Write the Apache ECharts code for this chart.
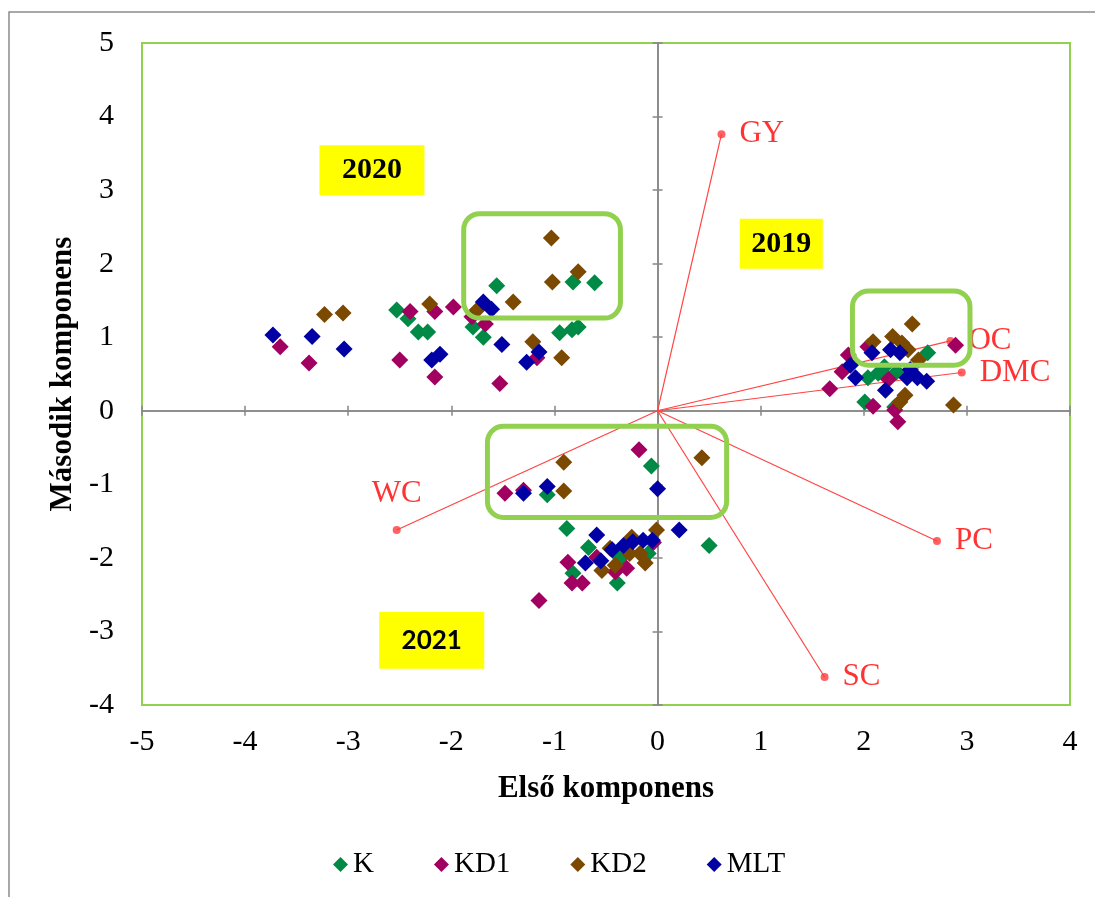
<!DOCTYPE html>
<html>
<head>
<meta charset="utf-8">
<script src="https://cdn.jsdelivr.net/npm/echarts@6/dist/echarts.min.js"></script>
<style>
html,body{margin:0;padding:0;background:#fff;}
#chart{width:1095px;height:897px;}
</style>
</head>
<body>
<div id="chart"></div>
<script>
// ---------- data ----------
const seriesNames = ['K', 'KD1', 'KD2', 'MLT'];
const dataK = [
  [-2.53,1.37],[-2.42,1.25],[-2.32,1.07],[-2.23,1.07],[-1.56,1.70],[-1.79,1.14],[-1.69,1.00],
  [-0.95,1.06],[-0.83,1.10],[-0.77,1.14],[-0.82,1.75],[-0.61,1.74],
  [2.62,0.79],[2.04,0.45],[2.14,0.51],[2.32,0.53],[2.01,0.12],[2.30,0.05],[2.20,0.60],
  [-1.07,-1.14],[-0.06,-0.75],[-0.88,-1.60],[0.50,-1.83],[-0.67,-1.86],[-0.82,-2.21],
  [-0.39,-2.34],[-0.36,-2.00],[-0.09,-1.94]
];
const dataKD1 = [
  [-3.66,0.87],[-3.38,0.65],[-2.50,0.69],[-2.40,1.35],[-2.16,1.35],[-2.16,0.46],[-1.98,1.41],
  [-1.80,1.28],[-1.67,1.18],[-1.53,0.37],[-1.17,0.72],
  [1.67,0.30],[1.79,0.53],[2.04,0.87],[2.24,0.43],[2.09,0.06],[2.30,0.01],[2.33,-0.15],[2.89,0.89],[1.85,0.76],
  [-1.48,-1.12],[-1.30,-1.08],[-0.18,-0.53],[-1.15,-2.58],[-0.87,-2.06],[-0.83,-2.34],[-0.73,-2.34],
  [-0.59,-1.99],[-0.41,-2.19],[-0.30,-2.14],[-0.04,-1.79]
];
const dataKD2 = [
  [-3.23,1.31],[-3.05,1.33],[-2.21,1.45],[-1.75,1.37],[-1.40,1.48],[-1.21,0.94],[-0.93,0.72],
  [-1.03,2.35],[-1.02,1.75],[-0.77,1.89],
  [2.47,1.18],[2.09,0.94],[2.28,1.01],[2.37,0.92],[2.43,0.83],[2.53,0.69],[2.40,0.21],[2.35,0.12],[2.87,0.08],
  [-0.91,-0.70],[-0.91,-1.09],[0.43,-0.64],[-0.01,-1.62],[-0.54,-2.17],[-0.41,-2.10],[-0.25,-1.72],
  [-0.27,-1.94],[-0.17,-1.94],[-0.12,-2.07],[-0.46,-1.87]
];
const dataMLT = [
  [-3.73,1.03],[-3.35,1.01],[-3.04,0.84],[-2.19,0.69],[-2.11,0.77],[-1.69,1.48],[-1.61,1.38],
  [-1.51,0.90],[-1.27,0.66],[-1.15,0.80],
  [2.08,0.79],[1.87,0.62],[1.92,0.45],[2.26,0.83],[2.35,0.79],[2.21,0.28],[2.42,0.45],[2.52,0.45],[2.61,0.40],[2.45,0.56],
  [-1.30,-1.12],[-1.07,-1.03],[0.00,-1.06],[-0.59,-1.69],[0.21,-1.62],[-0.70,-2.07],[-0.55,-2.04],
  [-0.44,-1.89],[-0.33,-1.83],[-0.24,-1.78],[-0.14,-1.76],[-0.05,-1.76]
];
// loading vectors
const vecNames = ['GY', 'OC', 'DMC', 'PC', 'SC', 'WC'];
const vecX = [0.62, 2.84, 2.95, 2.71, 1.62, -2.53];
const vecY = [3.76, 0.95, 0.52, -1.77, -3.62, -1.62];
// highlighted regions (x1, y1, x2, y2)
const boxX1 = [-1.88, 1.89, -1.65];
const boxY1 = [2.68, 1.63, -0.21];
const boxX2 = [-0.36, 3.03, 0.67];
const boxY2 = [1.26, 0.62, -1.45];
// year labels
const yearLabels = ['2020', '2019', '2021'];
const yearX = [-2.77, 1.20, -2.19];
const yearY = [3.27, 2.27, -3.12];
// axis ticks
const xMin = -5, xMax = 4, yMin = -4, yMax = 5;

// ---------- styles ----------
const serif = '"Liberation Serif", "Times New Roman", serif';
const colors = { K: '#008A46', KD1: '#A10060', KD2: '#7B4900', MLT: '#0000A5' };
const yearBoxStyle = [
  { w: 105, h: 50, font: 'bold 30px ' + serif },
  { w: 83, h: 50, font: 'bold 30px ' + serif },
  { w: 105, h: 57, font: 'bold 26px Lato, "Open Sans", sans-serif' }
];
const axisGray = '#868686';

const seriesData = { K: dataK, KD1: dataKD1, KD2: dataKD2, MLT: dataMLT };

function hiddenX(pos, inside) {
  return {
    type: 'value', min: xMin, max: xMax, interval: 1, position: pos,
    axisLine: { show: true, onZero: true, onZeroAxisIndex: 0, lineStyle: { color: axisGray, width: 1.5 } },
    axisTick: { show: true, inside: inside, length: 5, lineStyle: { color: axisGray, width: 1.5 } },
    axisLabel: { show: false }, splitLine: { show: false }
  };
}
function hiddenY(pos, inside) {
  return {
    type: 'value', min: yMin, max: yMax, interval: 1, position: pos,
    axisLine: { show: true, onZero: true, onZeroAxisIndex: 0, lineStyle: { color: axisGray, width: 1.5 } },
    axisTick: { show: true, inside: inside, length: 5, lineStyle: { color: axisGray, width: 1.5 } },
    axisLabel: { show: false }, splitLine: { show: false }
  };
}

const scatterSeries = seriesNames.map(n => ({
  name: n, type: 'scatter', data: seriesData[n],
  symbol: 'diamond', symbolSize: 17,
  itemStyle: { color: colors[n], opacity: 1 },
  z: 3
}));

const option = {
  animation: false,
  backgroundColor: '#fff',
  grid: { left: 142, top: 43, right: 25, bottom: 192, show: true, borderColor: '#92d050', borderWidth: 2 },
  xAxis: [
    {
      type: 'value', min: xMin, max: xMax, interval: 1, position: 'bottom',
      axisLine: { show: false, onZero: false }, axisTick: { show: false }, splitLine: { show: false },
      axisLabel: { fontFamily: serif, fontSize: 30, color: '#000', margin: 22 },
      name: 'Első komponens', nameLocation: 'middle', nameGap: 68,
      nameTextStyle: { fontFamily: serif, fontSize: 31, fontWeight: 'bold', color: '#000' }
    },
    hiddenX('top', false),
    hiddenX('top', true)
  ],
  yAxis: [
    {
      type: 'value', min: yMin, max: yMax, interval: 1, position: 'left',
      axisLine: { show: false, onZero: false }, axisTick: { show: false }, splitLine: { show: false },
      axisLabel: { fontFamily: serif, fontSize: 30, color: '#000', margin: 28 },
      name: 'Második komponens', nameLocation: 'middle', nameGap: 64,
      nameTextStyle: { fontFamily: serif, fontSize: 31, fontWeight: 'bold', color: '#000' }
    },
    hiddenY('right', false),
    hiddenY('right', true)
  ],
  legend: {
    data: seriesNames, left: 328, top: 845, icon: 'diamond',
    itemWidth: 15, itemHeight: 15, itemGap: 60,
    textStyle: { fontFamily: serif, fontSize: 29, color: '#000' }
  },
  graphic: [{
    type: 'rect', shape: { x: 9, y: 12, width: 1300, height: 1100 },
    style: { fill: 'none', stroke: '#8c8c8c', lineWidth: 1.5 }, silent: true, z: -10
  }],
  series: [
    {
      name: 'vectors', type: 'lines', coordinateSystem: 'cartesian2d',
      data: vecNames.map((n, i) => ({ coords: [[0, 0], [vecX[i], vecY[i]]] })),
      lineStyle: { color: '#ff4444', width: 1.2, opacity: 1 },
      symbol: 'none', z: 1, silent: true
    },
    {
      name: 'vectorEnds', type: 'scatter', symbol: 'circle', symbolSize: 8,
      itemStyle: { color: '#ff3b3b' }, z: 2,
      data: vecNames.map((n, i) => ({
        name: n, value: [vecX[i], vecY[i]],
        label: n === 'WC' ? { position: 'top', distance: 17 } : { position: 'right', distance: 14 }
      })),
      label: { show: true, formatter: '{b}', color: '#ff0000', fontFamily: serif, fontSize: 31 }
    },
    ...scatterSeries,
    {
      name: 'boxes', type: 'custom', z: 5, silent: true,
      data: boxX1.map((v, i) => [boxX1[i], boxY1[i], boxX2[i], boxY2[i]]),
      renderItem: function (params, api) {
        const p1 = api.coord([api.value(0), api.value(1)]);
        const p2 = api.coord([api.value(2), api.value(3)]);
        return {
          type: 'rect',
          shape: { x: Math.min(p1[0], p2[0]), y: Math.min(p1[1], p2[1]),
                   width: Math.abs(p2[0] - p1[0]), height: Math.abs(p2[1] - p1[1]), r: 16 },
          style: { fill: 'none', stroke: '#92d050', lineWidth: 5 }
        };
      }
    },
    {
      name: 'years', type: 'custom', z: 6, silent: true,
      data: yearLabels.map((t, i) => [yearX[i], yearY[i], i]),
      renderItem: function (params, api) {
        const p = api.coord([api.value(0), api.value(1)]);
        const idx = api.value(2);
        const st = yearBoxStyle[idx];
        return {
          type: 'group',
          children: [
            { type: 'rect', shape: { x: p[0] - st.w / 2, y: p[1] - st.h / 2, width: st.w, height: st.h },
              style: { fill: '#ffff00' } },
            { type: 'text', style: { text: yearLabels[idx], x: p[0], y: p[1], font: st.font,
              fill: '#000', align: 'center', verticalAlign: 'middle' } }
          ]
        };
      }
    }
  ]
};

const chart = echarts.init(document.getElementById('chart'), null, { renderer: 'canvas' });
chart.setOption(option);
</script>
</body>
</html>
